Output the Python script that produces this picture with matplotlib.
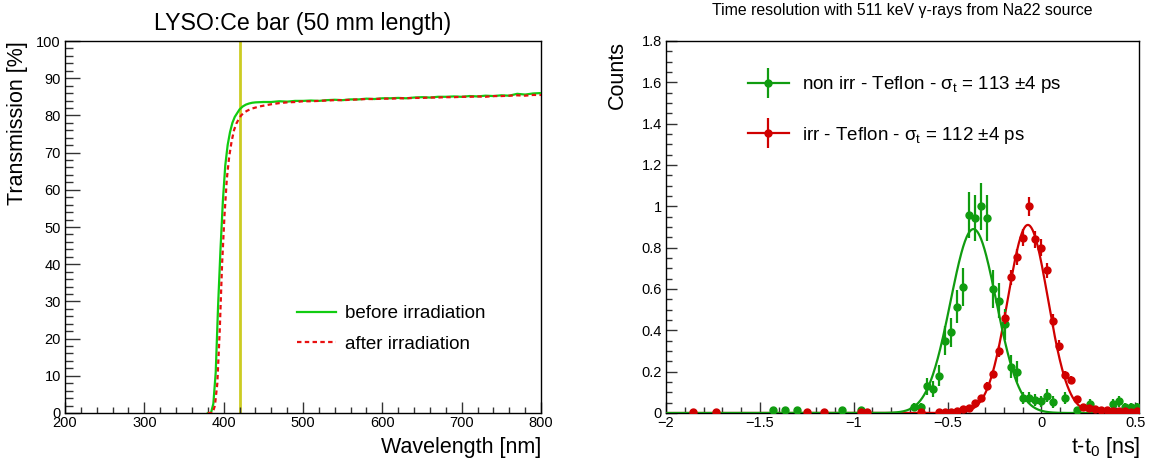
import numpy as np
import matplotlib
matplotlib.use("Agg")
import matplotlib.pyplot as plt
from matplotlib.ticker import MultipleLocator, FuncFormatter
from matplotlib.lines import Line2D
from matplotlib.legend_handler import HandlerTuple

plt.rcParams['font.family'] = ['Liberation Sans', 'DejaVu Sans']
plt.rcParams['mathtext.fontset'] = 'custom'
plt.rcParams['mathtext.rm'] = 'Liberation Sans'
plt.rcParams['mathtext.it'] = 'Liberation Sans:italic'
plt.rcParams['mathtext.bf'] = 'Liberation Sans:bold'

# ---------------- Left panel data: transmission spectra ----------------
wl_before = [380, 384, 387, 390, 393, 396, 399, 402, 405, 408, 411, 414, 417, 420,
             424, 428, 432, 436, 440, 450, 460, 470, 480, 490, 500, 510, 520, 530,
             540, 550, 560, 570, 580, 590, 600, 610, 620, 630, 640, 650, 660, 670,
             680, 690, 700, 710, 720, 730, 740, 750, 760, 770, 780, 790, 800]
tr_before = [0.0, 0.0, 2.5, 11.0, 29.0, 44.0, 57.0, 66.5, 72.0, 75.5, 78.0, 79.6, 80.6, 81.6,
             82.4, 82.9, 83.2, 83.4, 83.5, 83.6, 83.6, 83.8, 83.7, 83.9, 83.9, 84.0, 83.9, 84.1,
             84.2, 84.1, 84.3, 84.3, 84.5, 84.4, 84.6, 84.6, 84.7, 84.6, 84.8, 84.9, 84.8, 85.0,
             85.0, 85.1, 85.0, 85.2, 85.1, 85.3, 85.2, 85.4, 85.3, 85.8, 85.6, 85.9, 86.0]

wl_after = [380, 386, 389, 392, 395, 398, 401, 404, 407, 410, 413, 416, 419, 422,
            426, 430, 435, 440, 445, 450, 460, 470, 480, 490, 500, 510, 520, 530,
            540, 550, 560, 570, 580, 590, 600, 610, 620, 630, 640, 650, 660, 670,
            680, 690, 700, 710, 720, 730, 740, 750, 760, 770, 780, 790, 800]
tr_after = [0.0, 0.0, 2.0, 8.0, 22.0, 40.0, 53.0, 63.0, 69.0, 73.0, 76.0, 77.8, 79.0, 80.0,
            80.8, 81.3, 81.8, 82.1, 82.4, 82.6, 83.0, 83.3, 83.5, 83.6, 83.8, 83.8, 83.9, 84.0,
            84.1, 84.1, 84.2, 84.3, 84.4, 84.4, 84.5, 84.5, 84.6, 84.6, 84.7, 84.7, 84.8, 84.8,
            84.9, 84.9, 85.0, 85.0, 85.1, 85.0, 85.2, 85.2, 85.3, 85.4, 85.3, 85.5, 85.5]

cut_wavelength = 420

# ---------------- Right panel data: time resolution histograms ----------------
nonirr_t = [-1.43, -1.366, -1.30, -1.06, -0.962, -0.677, -0.643, -0.611, -0.577, -0.545,
            -0.514, -0.482, -0.452, -0.419, -0.387, -0.353, -0.321, -0.290, -0.258, -0.226,
            -0.194, -0.163, -0.131, -0.099, -0.065, -0.032, -0.002, 0.030, 0.063, 0.125,
            0.19, 0.258, 0.38, 0.414, 0.448, 0.48, 0.512]
nonirr_counts = [0.016, 0.016, 0.016, 0.016, 0.016, 0.029, 0.029, 0.129, 0.116, 0.18,
                 0.35, 0.39, 0.515, 0.61, 0.957, 0.944, 1.0, 0.944, 0.6, 0.543,
                 0.43, 0.225, 0.2, 0.072, 0.072, 0.064, 0.056, 0.084, 0.053, 0.072,
                 0.016, 0.045, 0.045, 0.056, 0.029, 0.029, 0.029]
nonirr_err = [0.015, 0.015, 0.015, 0.015, 0.015, 0.02, 0.02, 0.04, 0.04, 0.05,
              0.07, 0.07, 0.08, 0.09, 0.11, 0.11, 0.115, 0.11, 0.09, 0.085,
              0.075, 0.055, 0.05, 0.03, 0.03, 0.03, 0.027, 0.033, 0.027, 0.03,
              0.015, 0.025, 0.025, 0.027, 0.02, 0.02, 0.02]

irr_t = [-1.858, -1.731, -1.25, -1.156, -0.962, -0.928, -0.643, -0.545, -0.514, -0.482,
         -0.45, -0.419, -0.387, -0.353, -0.321, -0.29, -0.258, -0.226, -0.194, -0.163,
         -0.131, -0.099, -0.065, -0.032, -0.002, 0.030, 0.063, 0.095, 0.125, 0.157,
         0.19, 0.22, 0.252, 0.285, 0.315, 0.347, 0.38, 0.414, 0.448, 0.48, 0.512]
irr_counts = [0.004, 0.004, 0.004, 0.004, 0.004, 0.004, 0.004, 0.006, 0.006, 0.006,
              0.01, 0.018, 0.024, 0.048, 0.072, 0.132, 0.19, 0.298, 0.459, 0.657,
              0.753, 0.849, 1.0, 0.84, 0.80, 0.69, 0.447, 0.326, 0.185, 0.161,
              0.069, 0.029, 0.024, 0.018, 0.014, 0.014, 0.011, 0.008, 0.008, 0.005, 0.008]
irr_err = [0.003, 0.003, 0.003, 0.003, 0.003, 0.003, 0.003, 0.004, 0.004, 0.004,
           0.005, 0.006, 0.007, 0.01, 0.012, 0.016, 0.02, 0.025, 0.03, 0.036,
           0.039, 0.042, 0.046, 0.041, 0.04, 0.038, 0.03, 0.026, 0.02, 0.018,
           0.012, 0.008, 0.007, 0.006, 0.005, 0.005, 0.005, 0.004, 0.004, 0.003, 0.004]

# Gaussian fit parameters (amplitude, mean [ns], sigma [ns])
nonirr_fit = (0.89, -0.362, 0.122)
irr_fit = (0.91, -0.072, 0.107)

label_nonirr = r"non irr - Teflon - $\mathregular{\sigma_t}$ = 113 $\mathregular{\pm}$4 ps"
label_irr = r"irr - Teflon - $\mathregular{\sigma_t}$ = 112 $\mathregular{\pm}$4 ps"

# ---------------- Figure ----------------
W, H = 1149, 463
fig = plt.figure(figsize=(W / 100, H / 100), dpi=100)

def px(x0, y0, x1, y1):
    return [x0 / W, 1 - y1 / H, (x1 - x0) / W, (y1 - y0) / H]

axL = fig.add_axes(px(65, 41, 541, 413))
axR = fig.add_axes(px(666, 41, 1139, 413))

fmt = FuncFormatter(lambda v, p: f"{v:g}".replace('-', '\u2212'))

for ax in (axL, axR):
    for s in ax.spines.values():
        s.set_linewidth(1.0)
        s.set_color('black')
    ax.tick_params(which='both', direction='in', top=False, right=False,
                   labelsize=10.5, width=1.0, color='#333333')

# Left panel
GREEN_L = '#11cc11'
RED_L = '#e81010'
axL.axvline(cut_wavelength, color='#cccc22', lw=2.0, zorder=1)
axL.plot(wl_before, tr_before, color=GREEN_L, lw=1.6, zorder=3, label='before irradiation')
axL.plot(wl_after, tr_after, color=RED_L, lw=1.6, ls=(0, (2, 1.5)), zorder=4, label='after irradiation')
axL.set_xlim(200, 800)
axL.set_ylim(0, 100)
axL.xaxis.set_major_locator(MultipleLocator(100))
axL.xaxis.set_minor_locator(MultipleLocator(20))
axL.yaxis.set_major_locator(MultipleLocator(10))
axL.yaxis.set_minor_locator(MultipleLocator(2))
axL.tick_params(axis='y', which='major', length=11, pad=3)
axL.tick_params(axis='y', which='minor', length=5.5)
axL.tick_params(axis='x', which='major', length=8, pad=2)
axL.tick_params(axis='x', which='minor', length=4)
axL.xaxis.set_major_formatter(fmt)
axL.yaxis.set_major_formatter(fmt)
axL.set_title("LYSO:Ce bar (50 mm length)", fontsize=16.7, pad=8)
axL.legend(loc='upper left', bbox_to_anchor=(0.487, 0.29), frameon=False,
           fontsize=13.5, handlelength=2.1, handletextpad=0.45, labelspacing=0.72,
           borderpad=0, borderaxespad=0)
fig.text(18 / W, 1 - 41 / H, "Transmission [%]", rotation=90, ha='center', va='top', fontsize=15.5)
fig.text(541 / W, 1 - 447 / H, "Wavelength [nm]", ha='right', va='center', fontsize=15.5)

# Right panel
GREEN_R = '#109c10'
RED_R = '#d00000'
tgrid = np.linspace(-2, 0.52, 800)
for (a, m, s), c in ((irr_fit, RED_R), (nonirr_fit, GREEN_R)):
    axR.plot(tgrid, a * np.exp(-0.5 * ((tgrid - m) / s) ** 2), color=c, lw=1.6, zorder=3)
axR.errorbar(nonirr_t, nonirr_counts, yerr=nonirr_err, fmt='o', color=GREEN_R, ms=5,
             elinewidth=1.6, capsize=0, zorder=4, clip_on=True)
axR.errorbar(irr_t, irr_counts, yerr=irr_err, fmt='o', color=RED_R, ms=5,
             elinewidth=1.6, capsize=0, zorder=5, clip_on=True)
axR.set_xlim(-2, 0.52)
axR.set_ylim(0, 1.8)
axR.xaxis.set_major_locator(MultipleLocator(0.5))
axR.xaxis.set_minor_locator(MultipleLocator(0.1))
axR.yaxis.set_major_locator(MultipleLocator(0.2))
axR.yaxis.set_minor_locator(MultipleLocator(0.05))
axR.tick_params(axis='y', which='major', length=8, pad=3)
axR.tick_params(axis='y', which='minor', length=4.5)
axR.tick_params(axis='x', which='major', length=8, pad=2)
axR.tick_params(axis='x', which='minor', length=4)
axR.xaxis.set_major_formatter(fmt)
axR.yaxis.set_major_formatter(fmt)

def leg_handle(c):
    h1 = Line2D([], [], color=c, lw=1.6, marker='o', ms=5)
    h2 = Line2D([], [], color=c, lw=0, marker='|', ms=22, mew=1.6)
    return (h1, h2)

axR.legend([leg_handle(GREEN_R), leg_handle(RED_R)], [label_nonirr, label_irr],
           handler_map={tuple: HandlerTuple(ndivide=1, pad=0)}, numpoints=1,
           loc='upper left', bbox_to_anchor=(0.173, 0.91), frameon=False,
           fontsize=13.5, handlelength=2.2, handletextpad=0.7, labelspacing=1.55,
           borderpad=0, borderaxespad=0)

fig.text(902 / W, 1 - 10 / H, "Time resolution with 511 keV \u03b3-rays from Na22 source",
         ha='center', va='center', fontsize=11.4)
fig.text(617 / W, 1 - 41 / H, "Counts", rotation=90, ha='center', va='top', fontsize=15.5)
fig.text(1140 / W, 1 - 447 / H, r"t-t$\mathregular{_0}$ [ns]", ha='right', va='center', fontsize=15.5)

fig.savefig("out.png", dpi=100)
